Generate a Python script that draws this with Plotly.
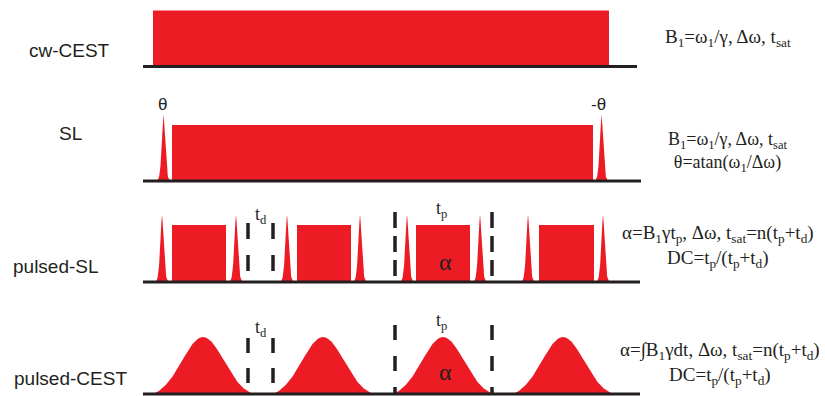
import numpy as np
import plotly.graph_objects as go

RED = "#ED1C24"
INK = "#231F20"
W, H = 825, 396

# ---- sequence data: times along the horizontal axis, amplitudes in row units ----
row_labels = ["cw-CEST", "SL", "pulsed-SL", "pulsed-CEST"]
row_start = [143, 143, 143, 143]
row_end = [637, 641, 640, 640]

cw_block = [153, 609]
cw_amp = 0.80

sl_block = [172, 593]
sl_block_amp = 0.80
sl_tilt_pulses = [163.5, 601.5]
sl_tilt_amp = 0.943

psl_tilt_pulses = [162, 236, 287, 360, 407, 480, 528, 603]
psl_tilt_amp = 0.957
psl_block_on = [172, 297, 416, 539]
psl_block_off = [226, 351, 470, 594]
psl_block_amp = 0.814

pcest_centers = [203, 323, 443, 563]
pcest_amp = 0.814
pcest_halfwidth = 50

td_marks = [248, 273]
tp_marks = [395, 492]

formulas = [
    ["B<sub>1</sub>=ω<sub>1</sub>/γ, Δω, t<sub>sat</sub>"],
    ["B<sub>1</sub>=ω<sub>1</sub>/γ, Δω, t<sub>sat</sub>",
     "θ=atan(ω<sub>1</sub>/Δω)"],
    ["α=B<sub>1</sub>γt<sub>p</sub>, Δω, t<sub>sat</sub>=n(t<sub>p</sub>+t<sub>d</sub>)",
     "DC=t<sub>p</sub>/(t<sub>p</sub>+t<sub>d</sub>)"],
    ["α=∫B<sub>1</sub>γdt, Δω, t<sub>sat</sub>=n(t<sub>p</sub>+t<sub>d</sub>)",
     "DC=t<sub>p</sub>/(t<sub>p</sub>+t<sub>d</sub>)"],
]

# ---- row geometry (pixels from top) ----
baseline_px = [66.5, 181, 282, 394]
unit_px = 70.0


def paper_y(py):
    return (H - py) / H


def paper_x(px):
    return px / W


fig = go.Figure()

axis_names = []
for i, base in enumerate(baseline_px):
    top = max(0.0, base - 75)
    bot = min(float(H), base + 5)
    name = "yaxis" if i == 0 else f"yaxis{i + 1}"
    fig.layout[name] = dict(
        domain=[paper_y(bot), paper_y(top)],
        range=[-(bot - base) / unit_px, (base - top) / unit_px],
        visible=False, fixedrange=True, anchor="x",
    )
    axis_names.append("y" if i == 0 else f"y{i + 1}")


def add_fill(xs, ys, row):
    fig.add_trace(go.Scatter(
        x=xs, y=ys, yaxis=axis_names[row], mode="lines", fill="toself",
        fillcolor=RED, line=dict(width=0, color=RED), hoverinfo="skip",
        showlegend=False,
    ))


def block(t0, t1, amp, row):
    add_fill([t0, t0, t1, t1, t0], [0, amp, amp, 0, 0], row)


def tilt_pulse(tc, amp, row, half=7.5, width=2.4):
    # sharp-topped lock pulse with soft tails
    t = np.linspace(-half, half, 81)
    g = np.exp(-(np.abs(t) / width) ** 1.6)
    g = (g - g[0]) / (1 - g[0])
    add_fill(list(tc + t), list(amp * g), row)


def gauss_pulse(tc, amp, row, half, sigma=21.0):
    t = np.linspace(-half, half, 121)
    g = np.exp(-t ** 2 / (2 * sigma ** 2))
    g = (g - g[0]) / (1 - g[0])
    add_fill(list(tc + t), list(amp * g), row)


# cw-CEST
block(cw_block[0], cw_block[1], cw_amp, 0)
# spin lock
block(sl_block[0], sl_block[1], sl_block_amp, 1)
for tc in sl_tilt_pulses:
    tilt_pulse(tc, sl_tilt_amp, 1)
# pulsed spin lock
for t0, t1 in zip(psl_block_on, psl_block_off):
    block(t0, t1, psl_block_amp, 2)
for tc in psl_tilt_pulses:
    tilt_pulse(tc, psl_tilt_amp, 2)
# pulsed CEST
for tc in pcest_centers:
    gauss_pulse(tc, pcest_amp, 3, pcest_halfwidth)

# baselines
for i in range(4):
    fig.add_trace(go.Scatter(
        x=[row_start[i], row_end[i]], y=[0, 0], yaxis=axis_names[i],
        mode="lines", line=dict(color=INK, width=3), hoverinfo="skip",
        showlegend=False,
    ))


# timing markers (dashed)
def marker(t, row, y_top, y_bot, dash):
    fig.add_trace(go.Scatter(
        x=[t, t], y=[y_top, y_bot], yaxis=axis_names[row], mode="lines",
        line=dict(color=INK, width=3.5, dash=dash), hoverinfo="skip",
        showlegend=False,
    ))


for t in td_marks:
    marker(t, 2, (282 - 223) / unit_px, (282 - 272) / unit_px, "16px,16px")
    marker(t, 3, (394 - 338) / unit_px, (394 - 384) / unit_px, "15px,15px")
for t in tp_marks:
    marker(t, 2, (282 - 212) / unit_px, 0, "16px,8px")
    marker(t, 3, (394 - 325) / unit_px, 0, "15px,16px")

fig.update_xaxes(range=[0, W], visible=False, fixedrange=True)


def text(px, py, s, size, family, anchor="center"):
    fig.add_annotation(
        x=paper_x(px), y=paper_y(py), xref="paper", yref="paper", text=s,
        showarrow=False, xanchor=anchor, yanchor="middle", align="center",
        font=dict(size=size, family=family, color=INK),
    )


SANS = "Liberation Sans, Arial, sans-serif"
SERIF = "Liberation Serif, Times New Roman, serif"

# row labels
label_pos = [(69, 50), (70, 133), (56, 266), (70, 378)]
for (px, py), s in zip(label_pos, row_labels):
    text(px, py, s, 19, SANS)

# flip-angle labels
text(162, 104, "θ", 17, SANS)
text(598, 104, "-θ", 17, SANS)

# interval labels
text(261, 216, "t<sub>d</sub>", 18, SERIF)
text(261, 328, "t<sub>d</sub>", 18, SERIF)
text(441, 209, "t<sub>p</sub>", 18, SERIF)
text(441, 321, "t<sub>p</sub>", 18, SERIF)
text(445, 262, "α", 24, SERIF)
text(445, 372, "α", 24, SERIF)

# parameter formulas, one block per row
formula_pos = [(728, 38), (727, 152), (718, 246), (720, 363)]
formula_size = [19, 18, 19, 19]
for (px, py), size, lines in zip(formula_pos, formula_size, formulas):
    text(px, py, "<br>".join(lines), size, SERIF)

fig.update_layout(
    width=W, height=H, margin=dict(l=0, r=0, t=0, b=0),
    paper_bgcolor="white", plot_bgcolor="white", showlegend=False,
)

fig.write_html("out.html", config={"displayModeBar": False})
